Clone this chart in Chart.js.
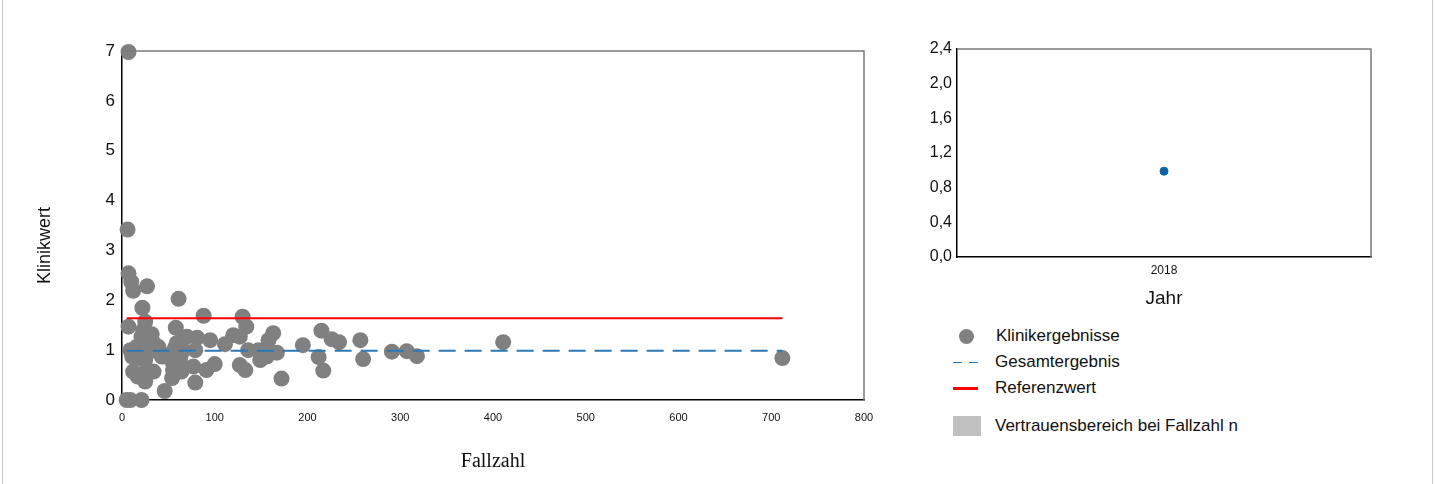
<!DOCTYPE html>
<html>
<head>
<meta charset="utf-8">
<script src="https://cdn.jsdelivr.net/npm/chart.js@4.4.1/dist/chart.umd.min.js"></script>
<style>
  body { margin: 0; background: #fff; font-family: "Liberation Sans", Arial, sans-serif; }
  #frame { position: absolute; left: 2px; top: 0; width: 1429px; height: 484px; border-left: 1px solid #c8c8c8; border-right: 1px solid #c8c8c8; }
  #leftBox { position: absolute; left: 0; top: 0; width: 880px; height: 484px; }
  #rightBox { position: absolute; left: 880px; top: 0; width: 555px; height: 310px; }
  .legend { position: absolute; left: 950px; font-size: 17px; color: #111; }
  .legend .row { position: absolute; left: 0; width: 400px; height: 24px; }
  .legend .txt { position: absolute; left: 46px; top: 2px; white-space: nowrap; }
  .legend .mk { position: absolute; }
</style>
</head>
<body>
<div id="frame"></div>
<div id="leftBox"><canvas id="scatterChart"></canvas></div>
<div id="rightBox"><canvas id="yearChart"></canvas></div>
<div class="legend">
  <div class="row" style="top:324px"><div class="mk" style="left:9px;top:5px;width:15px;height:15px;border-radius:50%;background:#808080"></div><div class="txt">Klinikergebnisse</div></div>
  <div class="row" style="top:350px">
    <div class="mk" style="left:3px;top:12px;width:9px;height:1px;background:#2a78b5"></div>
    <div class="mk" style="left:19px;top:12px;width:9px;height:1px;background:#2a78b5"></div>
    <div class="txt" style="left:45px">Gesamtergebnis</div>
  </div>
  <div class="row" style="top:376px"><div class="mk" style="left:3px;top:11px;width:25px;height:3px;background:#ff0000"></div><div class="txt" style="left:45px">Referenzwert</div></div>
  <div class="row" style="top:414px"><div class="mk" style="left:3px;top:2px;width:28px;height:20px;background:#c0c0c0"></div><div class="txt" style="left:45px">Vertrauensbereich bei Fallzahl n</div></div>
</div>
<script>
// Klinikergebnisse (Fallzahl / Klinikwert)
const fallzahl = [7, 6, 7, 10, 12, 27, 61, 22, 7, 25, 23, 32, 58, 88, 70, 81, 95, 111, 120, 130,
  134, 127, 163, 158, 195, 215, 226, 234, 257, 411, 172, 79, 46, 5, 9, 21, 212, 217, 260, 291,
  307, 318, 712, 9, 12, 23, 25, 34, 39, 43, 54, 59, 63, 55, 57, 54, 64, 77, 79, 91,
  100, 19, 16, 27, 30, 23, 21, 18, 34, 40, 47, 57, 63, 66, 11, 25, 136, 147, 154, 167,
  149, 156, 127, 133, 17, 55, 66];
const klinikwert = [6.98, 3.42, 2.54, 2.37, 2.19, 2.28, 2.03, 1.85, 1.47, 1.57, 1.40, 1.32, 1.45, 1.69, 1.27, 1.25, 1.20, 1.12, 1.30, 1.67,
  1.47, 1.27, 1.34, 1.20, 1.10, 1.39, 1.22, 1.16, 1.20, 1.16, 0.43, 0.35, 0.18, 0, 0, 0, 0.86, 0.59, 0.82, 0.97,
  0.98, 0.88, 0.84, 1.00, 0.57, 0.53, 0.37, 0.57, 1.07, 0.87, 0.94, 1.14, 0.87, 0.74, 0.54, 0.44, 0.57, 0.67, 1.00, 0.60,
  0.72, 0.84, 1.07, 1.07, 0.97, 1.14, 1.27, 1.07, 1.14, 1.00, 0.87, 1.04, 1.17, 1.00, 0.87, 0.80, 1.00, 1.00, 0.94, 0.95,
  0.80, 0.87, 0.70, 0.60, 0.47, 0.60, 0.67];

const gesamtergebnis = 0.99;
const referenzwert = 1.64;
const lineRange = [5, 712];

const jahre = ['2018'];
const jahresWerte = [0.99];

const xTicks = [0, 100, 200, 300, 400, 500, 600, 700, 800];
const yTicks = [0, 1, 2, 3, 4, 5, 6, 7];
const yearTicks = [0, 0.4, 0.8, 1.2, 1.6, 2.0, 2.4];

const sansFont = '"Liberation Sans", Arial, sans-serif';

// grey top/right frame of the plot area
const frameEdges = {
    id: 'frameEdges',
    afterDatasetsDraw(chart) {
        const a = chart.chartArea;
        const ctx = chart.ctx;
        ctx.save();
        ctx.strokeStyle = '#7a7a7a';
        ctx.lineWidth = 1.5;
        ctx.beginPath();
        ctx.moveTo(a.left, a.top);
        ctx.lineTo(a.right, a.top);
        ctx.lineTo(a.right, a.bottom);
        ctx.stroke();
        ctx.restore();
    }
};

function fixBox(size, horizontal) {
    return s => {
        if (horizontal) s.height = size; else s.width = size;
        s.paddingLeft = 0;
        s.paddingRight = 0;
        s.paddingTop = 0;
        s.paddingBottom = 0;
    };
}

const points = fallzahl.map((x, i) => ({ x: x, y: klinikwert[i] }));

new Chart(document.getElementById('scatterChart'), {
    type: 'scatter',
    data: {
        datasets: [
            {
                type: 'line',
                label: 'Referenzwert',
                data: lineRange.map(x => ({ x: x, y: referenzwert })),
                borderColor: '#ff0000',
                borderWidth: 2,
                pointRadius: 0,
                clip: false
            },
            {
                type: 'line',
                label: 'Gesamtergebnis',
                data: lineRange.map(x => ({ x: x, y: gesamtergebnis })),
                borderColor: '#2a78b5',
                borderWidth: 2,
                borderDash: [17, 9],
                pointRadius: 0,
                clip: false
            },
            {
                label: 'Klinikergebnisse',
                data: points,
                backgroundColor: '#808080',
                borderWidth: 0,
                pointRadius: 8,
                clip: false
            }
        ]
    },
    options: {
        responsive: true,
        maintainAspectRatio: false,
        animation: false,
        layout: { padding: { left: 0, top: 51, right: 16, bottom: 0 } },
        plugins: { legend: { display: false }, tooltip: { enabled: false } },
        scales: {
            x: {
                type: 'linear',
                min: 0,
                max: 800,
                afterBuildTicks: s => { s.ticks = xTicks.map(v => ({ value: v })); },
                afterFit: fixBox(84, true),
                grid: { display: false, drawTicks: false },
                border: { color: '#000', width: 1.5 },
                ticks: { padding: 11, color: '#111', font: { family: sansFont, size: 11 } },
                title: {
                    display: true,
                    text: 'Fallzahl',
                    color: '#111',
                    font: { family: '"Liberation Serif", "Times New Roman", serif', size: 20 },
                    padding: { top: 0, bottom: 10 }
                }
            },
            y: {
                min: 0,
                max: 7,
                afterBuildTicks: s => { s.ticks = yTicks.map(v => ({ value: v })); },
                afterFit: fixBox(122, false),
                grid: { display: false, drawTicks: false },
                border: { color: '#000', width: 1.5 },
                ticks: { padding: 7, color: '#111', font: { family: sansFont, size: 17 } },
                title: {
                    display: true,
                    text: 'Klinikwert        ',
                    color: '#111',
                    font: { family: sansFont, size: 18 },
                    padding: { top: 34, bottom: 0 }
                }
            }
        }
    },
    plugins: [frameEdges]
});

new Chart(document.getElementById('yearChart'), {
    type: 'line',
    data: {
        labels: jahre,
        datasets: [{
            label: 'Jahr',
            data: jahresWerte,
            backgroundColor: '#0b63ad',
            borderColor: '#0b63ad',
            pointRadius: 4,
            showLine: false,
            clip: false
        }]
    },
    options: {
        responsive: true,
        maintainAspectRatio: false,
        animation: false,
        layout: { padding: { left: 0, top: 49, right: 64, bottom: 0 } },
        plugins: { legend: { display: false }, tooltip: { enabled: false } },
        scales: {
            x: {
                offset: true,
                afterFit: fixBox(53, true),
                grid: { display: false, drawTicks: false },
                border: { color: '#000', width: 1.5 },
                ticks: { padding: 6, color: '#111', font: { family: sansFont, size: 12 } },
                title: {
                    display: true,
                    text: 'Jahr',
                    color: '#111',
                    font: { family: sansFont, size: 19 },
                    padding: { top: 0, bottom: 0 }
                }
            },
            y: {
                min: 0,
                max: 2.4,
                afterBuildTicks: s => { s.ticks = yearTicks.map(v => ({ value: v })); },
                afterFit: fixBox(77, false),
                grid: { display: false, drawTicks: false },
                border: { color: '#000', width: 1.5 },
                ticks: {
                    padding: 5,
                    color: '#111',
                    font: { family: sansFont, size: 16 },
                    callback: v => v.toFixed(1).replace('.', ',')
                }
            }
        }
    },
    plugins: [frameEdges]
});
</script>
</body>
</html>
